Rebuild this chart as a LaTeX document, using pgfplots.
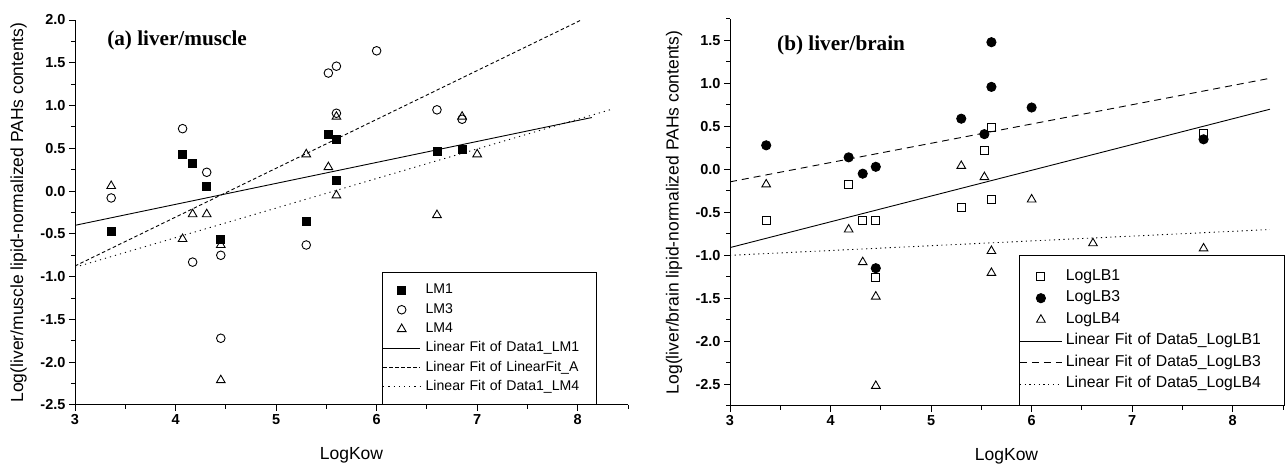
\documentclass[border=0pt]{standalone}
\usepackage{pgfplots}
\pgfplotsset{compat=1.18}
\usepackage{fontspec}
\setmainfont{Liberation Sans}
\newfontfamily\titlefont{Liberation Serif}
\newfontfamily\ticksans{Liberation Sans Bold}

\pgfplotsset{
  panel/.style={
    scale only axis,
    width=553bp,
    axis x line*=bottom,
    axis y line*=left,
    axis line style={line width=1bp, black},
    xmin=3, xmax=8.5,
    xtick={3,4,5,6,7,8},
    minor xtick={3.5,4.5,5.5,6.5,7.5,8.5},
    tick align=outside,
    major tick length=6bp,
    minor tick length=4bp,
    every tick/.style={black, line width=1bp},
    /pgf/number format/assume math mode=true,
    tick label style={font=\ticksans\fontsize{14.5bp}{17bp}\selectfont},
    yticklabel style={/pgf/number format/.cd, fixed, fixed zerofill, precision=1},
    xlabel={LogKow},
    every axis x label/.style={at={(axis description cs:0.5,-0.131)}, anchor=center,
      font=\fontsize{17.5bp}{20bp}\selectfont},
    legend cell align=left,
    legend image code/.code={\draw[mark repeat=2,mark phase=2,#1] plot coordinates {(0bp,0bp)(18.5bp,0bp)(37bp,0bp)};},
  },
  fitline/.style={no marks, black, line width=0.9bp},
}

\begin{document}
\begin{tikzpicture}
\useasboundingbox (0,0) rectangle (1287bp,465bp);

% ---------------- (a) liver/muscle ----------------
\begin{axis}[panel,
  at={(75bp,60bp)}, anchor=south west,
  height=385bp,
  ymin=-2.5, ymax=2.0,
  ytick={-2.5,-2,-1.5,-1,-0.5,0,0.5,1,1.5,2},
  minor ytick={-2.25,-1.75,-1.25,-0.75,-0.25,0.25,0.75,1.25,1.75},
  ylabel={Log(liver/muscle lipid-normalized PAHs contents)},
  every axis y label/.style={at={(axis description cs:-0.102,0.5)}, rotate=90, anchor=center,
    font=\fontsize{17.5bp}{20bp}\selectfont},
  legend style={at={(0.5557,0)}, anchor=south west, draw=black, line width=0.9bp,
    font=\fontsize{14.1bp}{16bp}\selectfont,
    inner xsep=0bp, inner ysep=10.6bp, row sep=5.3bp,
    nodes={inner xsep=0bp, inner ysep=0bp, text height=10.5bp, text depth=3.5bp, text width=170.7bp},
    /tikz/every odd column/.append style={column sep=5bp}},
]
\addplot[only marks, mark=square*, mark size=4bp, black, line width=0.9bp] table {
x y
3.36 -0.47
4.07 0.43
4.17 0.32
4.31 0.05
4.45 -0.56
5.30 -0.35
5.52 0.66
5.60 0.60
5.60 0.13
6.60 0.46
6.85 0.49
};
\addlegendentry{LM1}
\addplot[only marks, mark=o, mark size=4.3bp, black, line width=0.9bp] table {
x y
3.36 -0.08
4.07 0.73
4.17 -0.83
4.31 0.22
4.45 -0.75
4.45 -1.72
5.30 -0.63
5.52 1.38
5.60 1.46
5.60 0.91
6.00 1.64
6.60 0.95
6.85 0.84
};
\addlegendentry{LM3}
\addplot[only marks, mark=triangle, mark size=5bp, black, line width=0.9bp] table {
x y
3.36 0.06
4.07 -0.56
4.17 -0.27
4.31 -0.27
4.45 -0.63
4.45 -2.21
5.30 0.43
5.52 0.28
5.60 0.87
5.60 -0.05
6.60 -0.28
6.85 0.87
7.00 0.43
};
\addlegendentry{LM4}
\addplot[fitline] coordinates {(3,-0.40) (8.14,0.86)};
\addlegendentry{Linear Fit of Data1\_LM1}
\addplot[fitline, dash pattern=on 3.5bp off 2.5bp] coordinates {(3,-0.875) (8.14,2.06)};
\addlegendentry{Linear Fit of LinearFit\_A}
\addplot[fitline, dash pattern=on 1.2bp off 4bp] coordinates {(3,-0.89) (8.32,0.95)};
\addlegendentry{Linear Fit of Data1\_LM4}
\node[anchor=west, inner sep=0pt, font=\titlefont\bfseries\fontsize{21.2bp}{24bp}\selectfont]
  at (rel axis cs:0.058,0.947) {(a) liver/muscle};
\end{axis}

% ---------------- (b) liver/brain ----------------
\begin{axis}[panel,
  at={(730bp,59.3bp)}, anchor=south west,
  height=386.7bp,
  ymin=-2.75, ymax=1.75,
  ytick={-2.5,-2,-1.5,-1,-0.5,0,0.5,1,1.5},
  minor ytick={-2.75,-2.25,-1.75,-1.25,-0.75,-0.25,0.25,0.75,1.25,1.75},
  ylabel={Log(liver/brain lipid-normalized PAHs contents)},
  every axis y label/.style={at={(axis description cs:-0.101,0.5)}, rotate=90, anchor=center,
    font=\fontsize{17.5bp}{20bp}\selectfont},
  legend image code/.code={\draw[mark repeat=2,mark phase=2,#1] plot coordinates {(0bp,0bp)(21bp,0bp)(42bp,0bp)};},
  legend style={at={(0.5226,0)}, anchor=south west, draw=black, line width=0.9bp,
    font=\fontsize{15.75bp}{18bp}\selectfont,
    inner xsep=0bp, inner ysep=13.3bp, row sep=6bp,
    nodes={inner xsep=0bp, inner ysep=0bp, text height=11.5bp, text depth=4bp, text width=218.9bp},
    /tikz/every odd column/.append style={column sep=3.4bp}},
]
\addplot[only marks, mark=square, mark size=4bp, black, line width=0.9bp] table {
x y
3.36 -0.60
4.18 -0.175
4.32 -0.60
4.45 -0.59
4.45 -1.26
5.30 -0.44
5.53 0.22
5.60 0.485
5.60 -0.35
7.71 0.42
};
\addlegendentry{LogLB1}
\addplot[only marks, mark=*, mark size=4.6bp, black, line width=0.9bp] table {
x y
3.36 0.28
4.18 0.14
4.32 -0.05
4.45 0.03
4.45 -1.15
5.30 0.59
5.53 0.41
5.60 1.48
5.60 0.96
6.00 0.72
7.71 0.35
};
\addlegendentry{LogLB3}
\addplot[only marks, mark=triangle, mark size=5bp, black, line width=0.9bp] table {
x y
3.36 -0.175
4.18 -0.70
4.32 -1.08
4.45 -1.48
4.45 -2.52
5.30 0.04
5.53 -0.09
5.60 -0.95
5.60 -1.205
6.00 -0.35
6.61 -0.86
7.71 -0.92
};
\addlegendentry{LogLB4}
\addplot[fitline] coordinates {(3,-0.91) (8.37,0.70)};
\addlegendentry{Linear Fit of Data5\_LogLB1}
\addplot[fitline, dash pattern=on 7bp off 5bp] coordinates {(3,-0.145) (8.37,1.06)};
\addlegendentry{Linear Fit of Data5\_LogLB3}
\addplot[fitline, dash pattern=on 1.2bp off 3.5bp] coordinates {(3,-1.0) (8.37,-0.70)};
\addlegendentry{Linear Fit of Data5\_LogLB4}
\node[anchor=west, inner sep=0pt, font=\titlefont\bfseries\fontsize{21.2bp}{24bp}\selectfont]
  at (rel axis cs:0.085,0.931) {(b) liver/brain};
\end{axis}
\end{tikzpicture}
\end{document}
